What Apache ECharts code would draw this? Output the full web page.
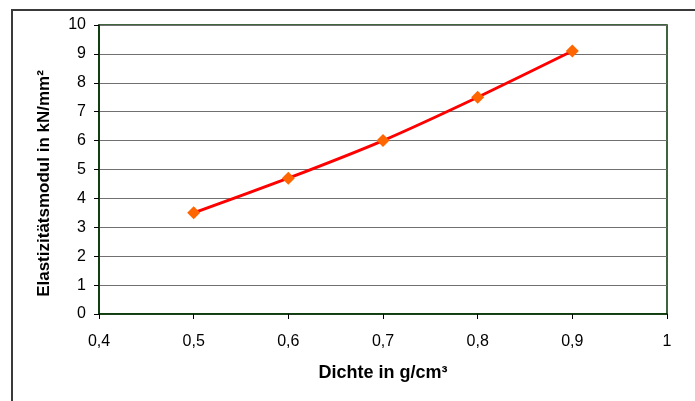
<!DOCTYPE html>
<html>
<head>
<meta charset="utf-8">
<script src="https://cdn.jsdelivr.net/npm/echarts@6/dist/echarts.min.js"></script>
<style>
  html, body { margin: 0; padding: 0; background: #fff; }
  #frame { position: absolute; left: 11px; top: 9px; width: 710px; height: 410px; border: 2px solid #3a3a3a; box-sizing: border-box; }
  #chart { position: absolute; left: 0; top: 0; width: 695px; height: 401px; }
</style>
</head>
<body>
<div id="frame"></div>
<div id="chart"></div>
<script>
// Density (g/cm³) against modulus of elasticity (kN/mm²)
const density = [0.5, 0.6, 0.7, 0.8, 0.9];
const modulus = [3.5, 4.7, 6.0, 7.5, 9.1];
const xTitle = 'Dichte in g/cm³';
const yTitle = 'Elastizitätsmodul in kN/mm²';

const font = '"Liberation Sans", Arial, sans-serif';
const chart = echarts.init(document.getElementById('chart'), null, { renderer: 'canvas' });

chart.setOption({
  animation: false,
  grid: { left: 99, top: 25, right: 28, bottom: 87, show: true, borderColor: '#003300', borderWidth: 1.5, backgroundColor: 'transparent' },
  xAxis: {
    type: 'value', min: 0.4, max: 1, interval: 0.1,
    name: xTitle, nameLocation: 'middle', nameGap: 50,
    nameTextStyle: { fontFamily: font, fontWeight: 'bold', fontSize: 18, color: '#000' },
    axisLine: { show: true, lineStyle: { color: '#003300', width: 1.5 } },
    axisTick: { show: true, inside: false, length: 5, lineStyle: { color: '#000' } },
    axisLabel: { fontFamily: font, fontSize: 16, color: '#000', margin: 20,
      formatter: v => String(Math.round(v * 10) / 10).replace('.', ',') },
    splitLine: { show: false }
  },
  yAxis: {
    type: 'value', min: 0, max: 10, interval: 1,
    name: yTitle, nameLocation: 'middle', nameGap: 46,
    nameTextStyle: { fontFamily: font, fontWeight: 'bold', fontSize: 17, color: '#000', padding: [0, 28, 0, 0] },
    axisLine: { show: true, lineStyle: { color: '#003300', width: 1.5 } },
    axisTick: { show: true, inside: false, length: 5, lineStyle: { color: '#000' } },
    axisLabel: { fontFamily: font, fontSize: 16, color: '#000', margin: 13 },
    splitLine: { show: true, lineStyle: { color: '#707070', width: 1 } }
  },
  series: [{
    type: 'line',
    data: density.map((d, i) => [d, modulus[i]]),
    smooth: 0.2,
    lineStyle: { color: '#ff0000', width: 3 },
    symbol: 'diamond',
    symbolSize: 13,
    itemStyle: { color: '#ff6600' }
  }]
});
</script>
</body>
</html>
